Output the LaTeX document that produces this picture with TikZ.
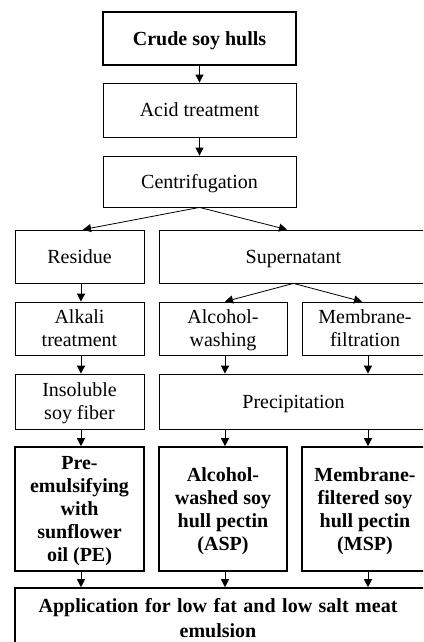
\documentclass[tikz,border=0pt]{standalone}
\usepackage{fontspec}
\setmainfont{Liberation Serif}
\usetikzlibrary{arrows.meta}
\begin{document}
\begin{tikzpicture}[x=1pt,y=1pt,
  box/.style={draw, line width=0.8pt, inner sep=0pt, align=center, text depth=0pt,
    font=\fontsize{20}{23}\selectfont},
  boldbox/.style={box, line width=1.6pt, font=\fontsize{20}{23}\selectfont\bfseries},
  arr/.style={line width=0.8pt, -{Triangle[width=8pt,length=8pt]}}]
\clip (0,0) rectangle (423,-642);
\node[boldbox, minimum width=193, minimum height=53] (crude) at (199.5,-38.5) {Crude soy hulls};
\node[box, minimum width=193, minimum height=54] (acid) at (199.5,-110) {Acid treatment};
\node[box, minimum width=193, minimum height=51] (cen) at (199.5,-181.5) {Centrifugation};
\node[box, minimum width=129, minimum height=53] (res) at (79.5,-256.5) {Residue};
\node[box, minimum width=269, minimum height=53] (sup) at (293.5,-256.5) {Supernatant};
\node[box, minimum width=129, minimum height=53] (alk) at (79.5,-328.5) {Alkali\\treatment};
\node[box, minimum width=128, minimum height=53] (alc) at (223,-328.5) {Alcohol-\\washing};
\node[box, minimum width=126, minimum height=53] (mem) at (365,-328.5) {Membrane-\\filtration};
\node[box, minimum width=129, minimum height=55] (ins) at (79.5,-401.5) {Insoluble\\soy fiber};
\node[box, minimum width=269, minimum height=55] (prec) at (293.5,-401.5) {Precipitation};
\node[boldbox, minimum width=129, minimum height=124] (pre) at (79.5,-509) {Pre-\\emulsifying\\with\\sunflower\\oil (PE)};
\node[boldbox, minimum width=128, minimum height=124] (asp) at (223,-509) {Alcohol-\\washed soy\\hull pectin\\(ASP)};
\node[boldbox, minimum width=126, minimum height=124] (msp) at (365,-509) {Membrane-\\filtered soy\\hull pectin\\(MSP)};
\node[boldbox, minimum width=410, minimum height=72] (app) at (220,-624) {};
\node[font={\fontsize{20}{25}\selectfont\bfseries\spaceskip=6.5pt\relax}, align=center, inner sep=0pt, anchor=base] (apptext) at (218,-637) {Application for low fat and low salt meat\\emulsion};
\draw[arr] (crude) -- (acid);
\draw[arr] (acid) -- (cen);
\draw[arr] (cen.south) -- ([xshift=3.5pt]res.north);
\draw[arr] (cen.south) -- ([xshift=-6.5pt]sup.north);
\draw[arr] ([xshift=1.5pt]res.south) -- ([xshift=1.5pt]alk.north);
\draw[arr] (sup.south) -- ([xshift=2pt]alc.north);
\draw[arr] (sup.south) -- ([xshift=-3pt]mem.north);
\draw[arr] ([xshift=1.5pt]alk.south) -- ([xshift=1.5pt]ins.north);
\draw[arr] ([xshift=2pt]alc.south) -- ([xshift=2pt]alc.south |- prec.north);
\draw[arr] ([xshift=3pt]mem.south) -- ([xshift=3pt]mem.south |- prec.north);
\draw[arr] ([xshift=1.5pt]ins.south) -- ([xshift=1.5pt]pre.north);
\draw[arr] ([xshift=2pt]asp.north |- prec.south) -- ([xshift=2pt]asp.north);
\draw[arr] ([xshift=3pt]msp.north |- prec.south) -- ([xshift=3pt]msp.north);
\draw[arr] ([xshift=1.5pt]pre.south) -- ([xshift=1.5pt]pre.south |- app.north);
\draw[arr] ([xshift=2pt]asp.south) -- ([xshift=2pt]asp.south |- app.north);
\draw[arr] ([xshift=3pt]msp.south) -- ([xshift=3pt]msp.south |- app.north);
\end{tikzpicture}
\end{document}
